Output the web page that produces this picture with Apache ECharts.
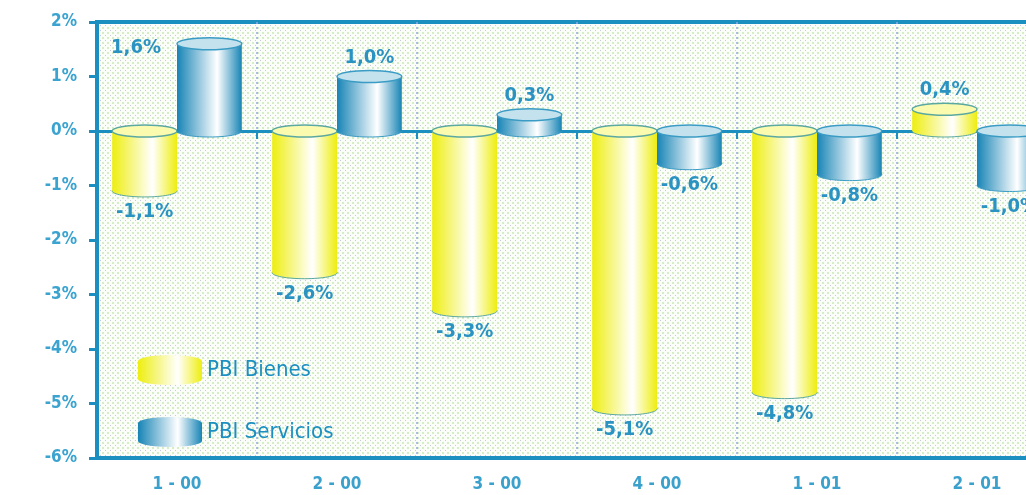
<!DOCTYPE html>
<html lang="es">
<head>
    <meta charset="UTF-8">
    <title>PBI Bienes y Servicios</title>
    <script src="https://cdn.jsdelivr.net/npm/echarts@6/dist/echarts.min.js"></script>
    <style>
        html, body { margin: 0; padding: 0; background: #ffffff; }
        #chart { width: 1026px; height: 495px; }
    </style>
</head>
<body>
    <div id="chart"></div>
    <script>
        // datos
        var categories = ['1 - 00', '2 - 00', '3 - 00', '4 - 00', '1 - 01', '2 - 01'];
        var bienes = [-1.1, -2.6, -3.3, -5.1, -4.8, 0.4];
        var servicios = [1.6, 1.0, 0.3, -0.6, -0.8, -1.0];
        var yTicks = [2, 1, 0, -1, -2, -3, -4, -5, -6];

        var FONT = '"Liberation Sans Narrow", "DejaVu Sans Condensed", "Liberation Sans", sans-serif';
        var AXIS = '#1a8fc0';
        var TXT = '#2a93c2';

        // fondo punteado
        var pat = document.createElement('canvas');
        pat.width = 5; pat.height = 5;
        var pc = pat.getContext('2d');
        pc.fillStyle = '#fbfdf9';
        pc.fillRect(0, 0, 5, 5);
        pc.fillStyle = '#c6c6dc';
        pc.fillRect(0, 0, 1, 1);
        pc.fillStyle = '#d6eec6';
        pc.fillRect(2, 2, 2, 2);

        function grad(side, mid) {
            return new echarts.graphic.LinearGradient(0, 0, 1, 0, [
                { offset: 0, color: side },
                { offset: 0.62, color: mid },
                { offset: 1, color: side }
            ]);
        }
        var styles = [
            { body: ['#eeee10', '#ffffff'], cap: '#fbfbb0', edge: '#5aa8a0' },
            { body: ['#1784b6', '#ffffff'], cap: '#c4e2ee', edge: '#3a9cc4' }
        ];

        function cylinder(sIdx) {
            return function (params, api) {
                var i = api.value(0), v = api.value(1);
                var base = api.coord([i, 0]);
                var end = api.coord([i, v]);
                var w = api.size([1, 0])[0] * 0.405;
                var x = sIdx === 0 ? base[0] - w : base[0];
                var top = Math.min(base[1], end[1]);
                var bot = Math.max(base[1], end[1]);
                var ry = 6;
                var st = styles[sIdx];
                var fill = grad(st.body[0], st.body[1]);
                var txt = v.toFixed(1).replace('.', ',') + '%';
                var lx = x + w / 2, ly, align = 'center';
                if (v >= 0) {
                    ly = top - ry - 13;
                    if (ly < params.coordSys.y + 10) {
                        lx = x - 16; ly = top + 4; align = 'right';
                    }
                } else {
                    ly = bot + ry + 15;
                }
                return {
                    type: 'group',
                    children: [
                        { type: 'ellipse', shape: { cx: x + w / 2, cy: bot, rx: w / 2, ry: ry },
                          style: { fill: fill, stroke: st.edge, lineWidth: 1 } },
                        { type: 'rect', shape: { x: x, y: top, width: w, height: bot - top },
                          style: { fill: fill } },
                        { type: 'ellipse', shape: { cx: x + w / 2, cy: top, rx: w / 2, ry: ry },
                          style: { fill: st.cap, stroke: st.edge, lineWidth: 1.5 } },
                        { type: 'text', style: { text: txt, x: lx, y: ly, align: align,
                          verticalAlign: 'middle', fill: TXT, font: 'bold 20px ' + FONT } }
                    ]
                };
            };
        }

        var chart = echarts.init(document.getElementById('chart'));
        chart.setOption({
            animation: false,
            grid: {
                left: 97, top: 22, right: -31, bottom: 37,
                outerBoundsMode: 'none',
                containLabel: false,
                show: true,
                borderColor: AXIS,
                borderWidth: 4,
                backgroundColor: { image: pat, repeat: 'repeat' }
            },
            legend: {
                orient: 'vertical',
                left: 133, top: 350,
                itemWidth: 64, itemHeight: 30, itemGap: 32,
                icon: 'path://M0,6 A32,6 0 0 1 64,6 L64,24 A32,6 0 0 1 0,24 Z',
                textStyle: { color: AXIS, fontSize: 22, fontFamily: FONT },
                data: ['PBI Bienes', 'PBI Servicios']
            },
            xAxis: [{
                type: 'category',
                data: categories,
                axisLine: { onZero: true, lineStyle: { color: AXIS, width: 3 } },
                axisTick: { show: true, length: 8, lineStyle: { color: AXIS, width: 2 } },
                axisLabel: { show: false },
                splitLine: { show: false }
            }, {
                type: 'category',
                data: categories,
                position: 'bottom',
                axisLine: { onZero: false, lineStyle: { color: AXIS, width: 4 } },
                axisTick: { show: false },
                axisLabel: { color: '#3aa0cc', fontSize: 17, fontFamily: FONT, fontWeight: 'bold', margin: 18 },
                splitLine: { show: true, lineStyle: { color: '#95a8e0', width: 1.5, type: [2, 3] } }
            }],
            yAxis: {
                type: 'value',
                min: yTicks[yTicks.length - 1], max: yTicks[0], interval: 1,
                axisLine: { show: true, lineStyle: { color: AXIS, width: 4 } },
                axisTick: { show: true, length: 8, lineStyle: { color: AXIS, width: 3 } },
                axisLabel: { color: '#3aa3d0', fontSize: 17, fontFamily: FONT, fontWeight: 'bold', margin: 20,
                    formatter: function (v) { return v + '%'; } },
                splitLine: { show: false }
            },
            series: [{
                name: 'PBI Bienes',
                type: 'custom',
                xAxisIndex: 0,
                itemStyle: { color: grad('#eeee10', '#ffffff') },
                renderItem: cylinder(0),
                data: bienes.map(function (v, i) { return [i, v]; }),
                z: 5
            }, {
                name: 'PBI Servicios',
                type: 'custom',
                xAxisIndex: 0,
                itemStyle: { color: grad('#1784b6', '#ffffff') },
                renderItem: cylinder(1),
                data: servicios.map(function (v, i) { return [i, v]; }),
                z: 5
            }]
        });
    </script>
</body>
</html>
